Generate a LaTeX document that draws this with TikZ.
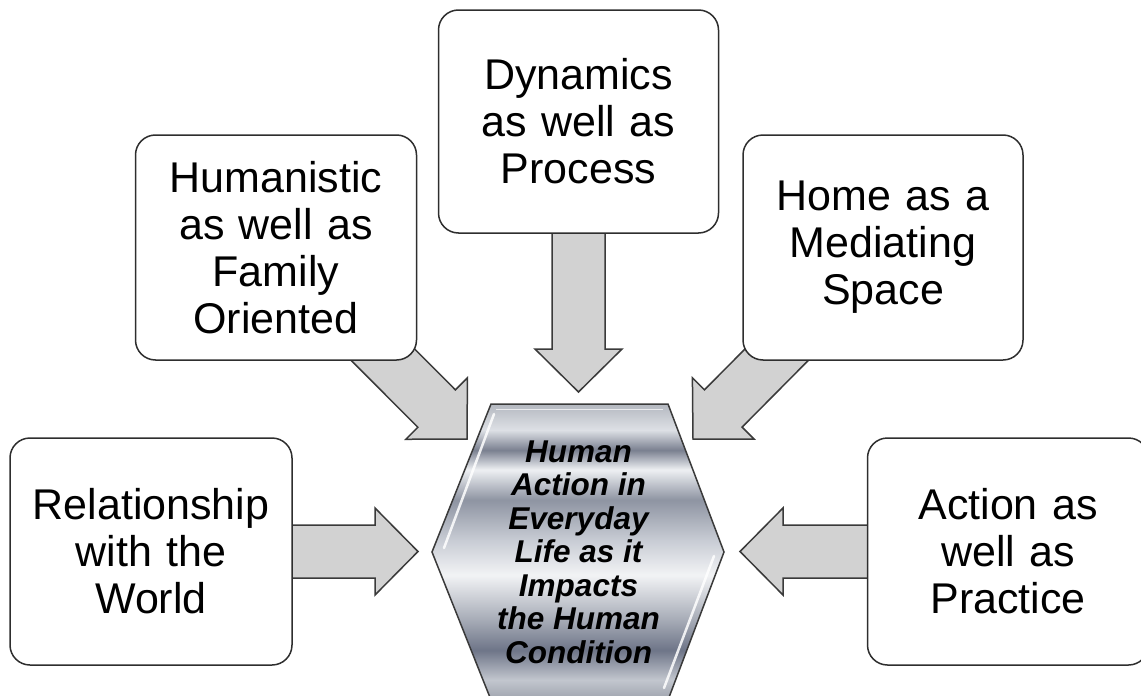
\documentclass[tikz,border=0pt]{standalone}
\usepackage{fontspec}
\setmainfont{Liberation Sans}
\usetikzlibrary{calc}
\definecolor{arrfill}{HTML}{D2D2D2}
\definecolor{arredge}{HTML}{3A3A3A}
\definecolor{boxedge}{HTML}{2E2E2E}
\definecolor{mA}{HTML}{B4B8C0}
\definecolor{mB}{HTML}{DDE0E5}
\definecolor{mC}{HTML}{7A8090}
\definecolor{mD}{HTML}{EEF0F3}
\definecolor{mE}{HTML}{8E94A2}
\definecolor{mF}{HTML}{C8CCD4}
\definecolor{mG}{HTML}{F2F3F5}
\definecolor{mH}{HTML}{A6ABB6}
\definecolor{mI}{HTML}{6E7588}
\definecolor{mJ}{HTML}{C2C6CE}
\definecolor{mK}{HTML}{9EA3AD}
\pgfdeclareverticalshading{metal}{100bp}{color(0bp)=(mK); color(25bp)=(mK); color(28.4bp)=(mJ); color(33.4bp)=(mI); color(38.5bp)=(mH); color(46.1bp)=(mG); color(52bp)=(mF); color(58.8bp)=(mE); color(63.9bp)=(mD); color(67.2bp)=(mC); color(70.6bp)=(mB); color(75bp)=(mA); color(100bp)=(mA)}
\tikzset{
  box/.style={draw=boxedge, line width=1.5pt, fill=white, rounded corners=20pt,
    align=center, inner sep=0pt, text width=270pt,
    font=\fontsize{43}{47}\selectfont},
  arrowstyle/.style={draw=arredge, line width=1.5pt, fill=arrfill, line join=miter},
  hexstyle/.style={draw=arredge, line width=1.5pt, shading=metal},
  hubtext/.style={align=center, inner sep=0pt,
    font=\fontsize{31.5}{33.5}\selectfont\bfseries\itshape},
  glint/.style={white, line width=2.5pt, opacity=0.85, line cap=round}
}
\newcommand\blockarrow[2]{%
  \coordinate (hb) at ($(#2)!43pt!(#1)$);
  \draw[arrowstyle] ($(#1)!26.5pt!90:(#2)$) -- ($(hb)!26.5pt!90:(#2)$) -- ($(hb)!43.5pt!90:(#2)$) -- (#2)
    -- ($(hb)!43.5pt!-90:(#2)$) -- ($(hb)!26.5pt!-90:(#2)$) -- ($(#1)!26.5pt!-90:(#2)$) -- cycle;
}
\begin{document}
\begin{tikzpicture}[x=1pt, y=-1pt]
\useasboundingbox (0,0) rectangle (1141,696);
% arrow tips and starts
\coordinate (tD) at (578.5,392);
\coordinate (tL) at (418,551.5);
\coordinate (tR) at (740,551.5);
\coordinate (tUL) at (467,439);
\coordinate (tUR) at (693,439);
\coordinate (sD) at (578.5,121.5);
\coordinate (sUL) at (276,247.5);
\coordinate (sUR) at (883,247.5);
\coordinate (sL) at (151,551.5);
\coordinate (sR) at (1008,551.5);
% arrows
\blockarrow{sD}{tD}
\blockarrow{sUL}{tUL}
\blockarrow{sUR}{tUR}
\blockarrow{sL}{tL}
\blockarrow{sR}{tR}
% boxes
\node[box, minimum width=280pt, minimum height=223pt] (top) at (sD) {Dynamics\\as well as\\Process};
\node[box, minimum width=281pt, minimum height=225pt] (hum) at (sUL) {Humanistic\\as well as\\Family\\Oriented};
\node[box, minimum width=280pt, minimum height=225pt] (home) at (sUR) {Home as a\\Mediating\\Space};
\node[box, minimum width=282pt, minimum height=227pt] (rel) at (sL) {Relationship\\with the\\World};
\node[box, minimum width=281pt, minimum height=227pt] (act) at (sR) {Action as\\well as\\Practice};
% hexagon
\path[hexstyle] (491,404) -- (668,404) -- (724,552) -- (668,700) -- (491,700) -- (432,552) -- cycle;
\draw[glint] (494,414) -- (444,548);
\draw[glint] (714,556) -- (664,688);
\draw[white, line width=1pt, opacity=0.7] (496,409) -- (663,409);
\node[hubtext] (hub) at (578.5,552) {Human\\Action in\\Everyday\\Life as it\\Impacts\\the Human\\Condition};
\end{tikzpicture}
\end{document}
